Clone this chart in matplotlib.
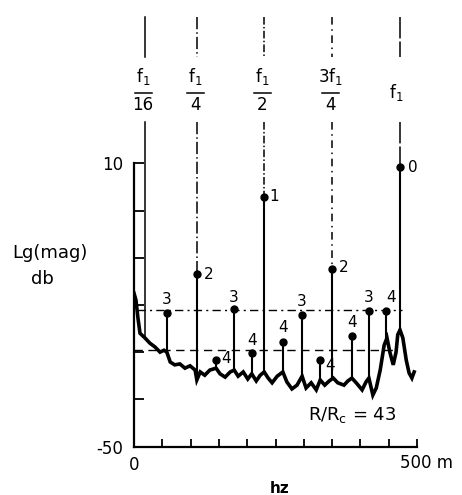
import numpy as np
import matplotlib
matplotlib.use("Agg")
import matplotlib.pyplot as plt

plt.rcParams['font.family'] = ['DejaVu Sans']
plt.rcParams['mathtext.fontset'] = 'dejavusans'

# ---- data ----
# spectrum trace (frequency in mHz, level in dB)
trace_f = [0, 3.5, 7, 10.6, 19.4, 28, 37, 46, 53, 58, 64, 72, 81, 90, 99, 108, 111, 117, 125,
           134, 145, 152, 161, 170, 177, 184, 193, 201, 208, 216, 223, 230, 237, 244, 253, 263,
           270, 279, 288, 297, 304, 313, 322, 329, 337, 345, 352, 360, 371, 378, 385, 394, 403,
           410, 415, 422, 428, 435, 442, 447, 452, 458, 463, 466, 470, 475, 481, 486, 491, 495]
trace_db = [-17.5, -19.0, -22.8, -26.0, -27.0, -28.1, -28.9, -30.0, -29.6, -30.0, -32.1, -32.7,
            -32.5, -33.4, -32.9, -33.8, -35.9, -34.2, -34.9, -33.8, -33.4, -34.6, -35.3, -34.2,
            -33.8, -35.1, -34.2, -35.7, -34.6, -36.1, -34.9, -34.2, -35.5, -36.5, -35.1, -34.2,
            -36.3, -37.8, -37.0, -35.1, -37.6, -36.5, -38.0, -35.9, -37.0, -36.1, -35.5, -36.5,
            -37.0, -36.1, -35.5, -36.7, -38.0, -36.3, -35.5, -39.1, -37.6, -33.8, -28.5, -27.0,
            -30.0, -32.7, -30.0, -26.3, -25.3, -27.0, -31.7, -34.4, -35.5, -34.2]

# harmonic peaks
peak_freq = [470, 230, 111, 350, 58, 177, 297, 415, 145, 208, 263, 329, 385, 445]
peak_db = [9.2, 2.9, -13.5, -12.4, -21.7, -20.9, -22.1, -21.3, -31.7, -30.2, -27.9, -31.7, -26.6, -21.3]
peak_label = ['0', '1', '2', '2', '3', '3', '3', '3', '4', '4', '4', '4', '4', '4']

# reference frequency lines and their labels
ref_freq = [19, 111, 230, 350, 470]
ref_num = [r'$\mathrm{f}_1$', r'$\mathrm{f}_1$', r'$\mathrm{f}_1$', r'$3\mathrm{f}_1$', r'$\mathrm{f}_1$']
ref_den = ['16', '4', '2', '4', '']

# horizontal reference levels
level_upper = -21.1
level_lower = -29.6

# ---- figure ----
W, H = 462, 495
fig = plt.figure(figsize=(W / 100, H / 100), dpi=100)
x0, x1 = 134, 417
ybot, ytop = 446.5, 10
ax = fig.add_axes([x0 / W, (H - ybot) / H, (x1 - x0) / W, (ybot - ytop) / H])
ax.set_xlim(0, 500)
ax.set_ylim(-50, 42.5)

for s in ['top', 'right']:
    ax.spines[s].set_visible(False)
ax.spines['left'].set_bounds(-50, 10)
ax.spines['bottom'].set_bounds(0, 500)
for s in ['left', 'bottom']:
    ax.spines[s].set_linewidth(1.6)

ax.set_yticks(np.arange(-50, 11, 10))
ax.set_yticklabels(['-50', '', '', '', '', '', '10'], fontsize=12)
ax.set_xticks(np.arange(0, 501, 50))
ax.set_xticklabels(['0'] + [''] * 10, fontsize=12)
ax.tick_params(axis='y', direction='in', length=7, width=1.3, pad=8)
ax.tick_params(axis='x', direction='in', length=6, width=1.3, pad=7)

# trace
ax.plot(trace_f, trace_db, color='black', lw=2.6, solid_joinstyle='miter', zorder=3)

# horizontal reference levels
ax.plot([5, 474], [level_upper, level_upper], color='black', lw=1.0, dashes=(6, 3, 1.5, 3))
ax.plot([0, 457], [level_lower, level_lower], color='black', lw=1.0, dashes=(6, 4))

# stems + markers
base = np.interp(peak_freq, trace_f, trace_db)
ax.vlines(peak_freq, base, peak_db, color='black', lw=1.5, zorder=3)
ax.plot(peak_freq, peak_db, 'o', color='black', ms=5, zorder=4)

offsets = [(13, 0), (10, 0), (12, 0), (12, 2), (0, 13), (0, 12), (0, 13), (0, 14),
           (10, 2), (0, 13), (0, 15), (10, -5), (0, 14), (5, 14)]
for f, d, lab, off in zip(peak_freq, peak_db, peak_label, offsets):
    ax.annotate(lab, (f, d), xytext=off, textcoords='offset pixels',
                ha='center', va='center', fontsize=11, annotation_clip=False)

# reference vertical lines (two segments around the label)
styles = [None, (8, 2, 1, 2), (5, 1.5, 1, 1.5), (5, 3, 1, 3), (14, 2)]
for f, st in zip(ref_freq, styles):
    bot = float(np.interp(f, trace_f, trace_db))
    for y0, y1 in [(41.0, 32.5), (18.7, bot)]:
        if st is None:
            ax.plot([f, f], [y0, y1], color='black', lw=1.1, clip_on=False)
        else:
            ax.plot([f, f], [y0, y1], color='black', lw=1.1, dashes=st, clip_on=False)

for f, num, den in zip(ref_freq, ref_num, ref_den):
    if den:
        ax.text(f - 3, 28.5, num, ha='center', va='center', fontsize=12)
        ax.plot([f - 18, f + 12], [25.0, 25.0], color='black', lw=1.1)
        ax.text(f - 3, 22.4, den, ha='center', va='center', fontsize=12)
    else:
        ax.text(f - 6, 25.0, num, ha='center', va='center', fontsize=12)

# texts
ax.text(470, -53.5, '500 m', ha='left', va='center', fontsize=12, clip_on=False)
ax.text(258, -58.8, 'hz', ha='center', va='center', fontsize=11, fontweight='bold')
ax.text(307, -43.3, r'R/R$_\mathrm{c}$ = 43', ha='left', va='center', fontsize=13)
fig.text(50 / W, 1 - 253 / H, 'Lg(mag)', ha='center', va='center', fontsize=13)
fig.text(42 / W, 1 - 279 / H, 'db', ha='center', va='center', fontsize=13)

fig.savefig('out.png', dpi=100)
